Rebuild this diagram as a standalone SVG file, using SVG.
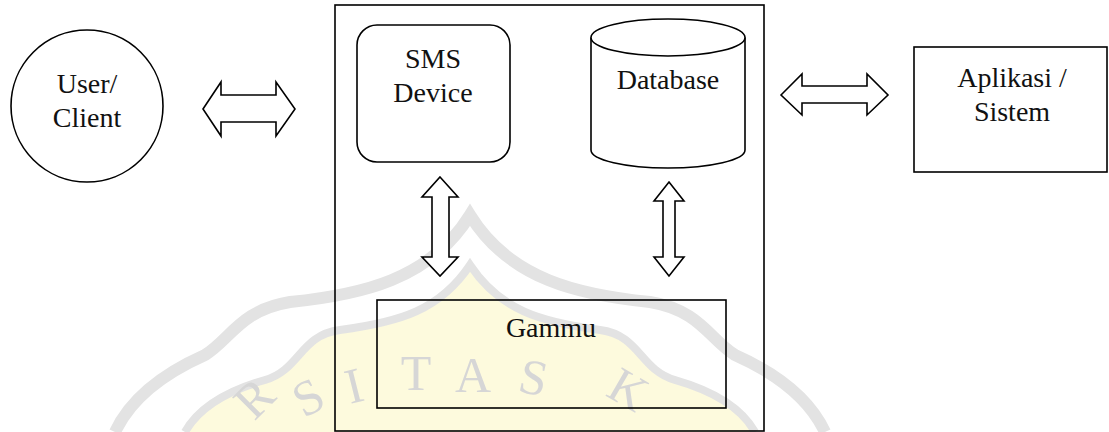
<svg xmlns="http://www.w3.org/2000/svg" width="1109" height="432" viewBox="0 0 1109 432">
<style>
.s{fill:none;stroke:#000;stroke-width:1.6}
.w{fill:#fff;stroke:#000;stroke-width:1.6}
.t{font-family:"Liberation Serif","Times New Roman",serif;font-size:28px;fill:#111;text-anchor:middle}
.band{fill:none;stroke:#e3e3e3}
.wm{font-family:"Liberation Serif","Times New Roman",serif;font-size:50px;fill:#d6d6d6;text-anchor:middle}
</style>
<rect width="1109" height="432" fill="#fff"/>
<g id="watermark">
<path d="M185 432 C200 405 230 390 265 380 C300 370 300 335 340 330 C400 322 440 310 470 265 C500 310 540 322 600 330 C640 335 640 370 675 380 C710 390 740 405 755 432 Z" fill="#fdfadd"/>
<path class="band" stroke-width="12" d="M115 432 C130 400 160 375 205 355 C230 340 240 310 290 302 C360 295 430 280 470 215 C510 280 580 295 650 302 C700 310 710 340 735 355 C780 375 810 400 825 432"/>
<path class="band" stroke-width="8" d="M185 432 C200 405 230 390 265 380 C300 370 300 335 340 330 C400 322 440 310 470 265 C500 310 540 322 600 330 C640 335 640 370 675 380 C710 390 740 405 755 432"/>
<text class="wm" transform="translate(266,410) rotate(-45)">R</text>
<text class="wm" transform="translate(316,412) rotate(-28)">S</text>
<text class="wm" transform="translate(358,402) rotate(-14)">I</text>
<text class="wm" x="416" y="390">T</text>
<text class="wm" x="473" y="392">A</text>
<text class="wm" transform="translate(530,394) rotate(12)">S</text>
<text class="wm" transform="translate(620,404) rotate(30)">K</text>
</g>
<g id="system">
<rect class="s" x="335" y="5" width="429" height="426"/>
</g>
<g id="user">
<circle class="s" cx="87" cy="106" r="76"/>
<text class="t" x="87" y="93">User/</text>
<text class="t" x="87" y="127">Client</text>
</g>
<g id="sms">
<rect class="s" x="357" y="25" width="153" height="137" rx="20"/>
<text class="t" x="433" y="68">SMS</text>
<text class="t" x="433" y="102">Device</text>
</g>
<g id="database">
<path class="w" d="M591 37.5 L591 150 A77 18 0 0 0 745 150 L745 37.5"/>
<ellipse class="w" cx="668" cy="37.5" rx="77" ry="18.5"/>
<text class="t" x="668" y="89">Database</text>
</g>
<g id="aplikasi">
<rect class="s" x="914" y="47" width="193" height="125"/>
<text class="t" x="1012" y="87">Aplikasi /</text>
<text class="t" x="1012" y="121">Sistem</text>
</g>
<g id="gammu">
<rect class="s" x="377" y="300" width="349" height="108"/>
<text class="t" x="551" y="337">Gammu</text>
</g>
<g id="connectors">
<polygon class="w" points="203,109 221,82 221,95 276,95 276,82 295,109 276,136 276,122 221,122 221,136"/>
<polygon class="w" points="781,95 802,74 802,86 867,86 867,74 888,95 867,115 867,103 802,103 802,115"/>
<polygon class="w" points="440,177 458,197 449,197 449,257 458,257 440,276 422,257 432,257 432,197 422,197"/>
<polygon class="w" points="669,182 684,201 675,201 675,257 684,257 669,276 654,257 663,257 663,201 654,201"/>
</g>
</svg>
